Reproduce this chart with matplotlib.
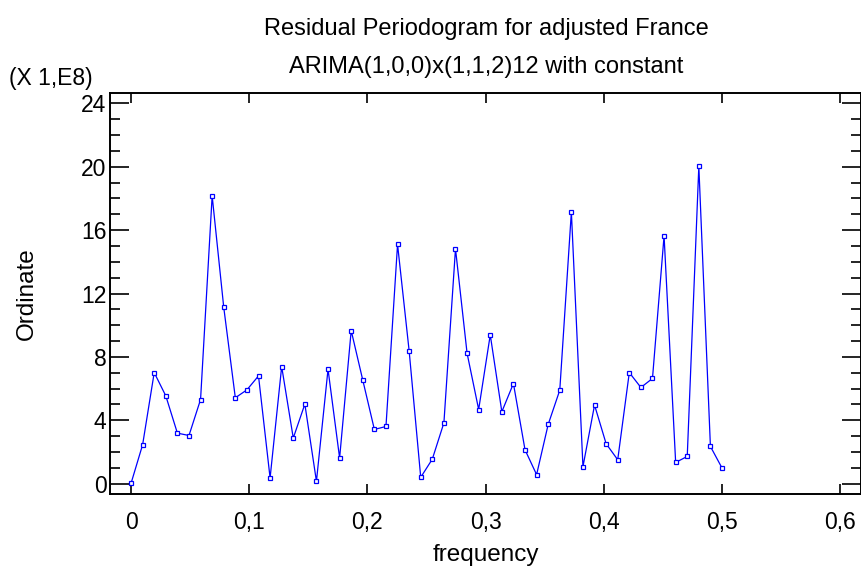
import matplotlib
matplotlib.use("Agg")
import matplotlib.pyplot as plt
import numpy as np
from matplotlib.ticker import FixedLocator, MultipleLocator, FuncFormatter

plt.rcParams['font.family'] = ['Liberation Sans', 'DejaVu Sans']

n_points = 52
frequency = [k / 102 for k in range(n_points)]
ordinate = [0.02, 2.46, 7.01, 5.54, 3.19, 3.04, 5.31, 18.16, 11.13, 5.42,
            5.92, 6.80, 0.36, 7.39, 2.88, 5.02, 0.15, 7.22, 1.62, 9.66,
            6.53, 3.42, 3.61, 15.10, 8.38, 0.40, 1.55, 3.84, 14.82, 8.23,
            4.68, 9.39, 4.54, 6.32, 2.14, 0.57, 3.74, 5.90, 17.15, 1.07,
            4.96, 2.52, 1.51, 7.01, 6.07, 6.64, 15.64, 1.34, 1.72, 20.03,
            2.35, 0.99]
x_ticks = [0, 0.1, 0.2, 0.3, 0.4, 0.5, 0.6]
y_ticks = [0, 4, 8, 12, 16, 20, 24]

fig = plt.figure(figsize=(8.62, 5.72), dpi=100)
ax = fig.add_axes([110/862, 1 - 494.3/572, (861-110)/862, (494.3-92.7)/572])

ax.plot(frequency, ordinate, color='#0000ff', lw=0.9, marker='s', ms=3.2,
        mfc='white', mec='#0000ff', mew=0.9)

ax.set_xlim(-0.0178, 0.6176)
ax.set_ylim(-0.67, 24.67)
ax.xaxis.set_major_locator(FixedLocator(x_ticks))
ax.yaxis.set_major_locator(FixedLocator(y_ticks))
ax.yaxis.set_minor_locator(MultipleLocator(1))

fmt = FuncFormatter(lambda v, p: ('%g' % round(v, 3)).replace('.', ','))
ax.xaxis.set_major_formatter(fmt)
ax.yaxis.set_major_formatter(fmt)

ax.tick_params(axis='both', which='both', direction='in', labelsize=16.5, colors='black')
ax.tick_params(axis='x', which='major', length=7, width=1.2, top=True, bottom=True, pad=12)
ax.tick_params(axis='y', which='major', length=14, width=1.2, left=True, right=True, pad=2.5)
ax.tick_params(axis='y', which='minor', length=7, width=1.2, left=True, right=True)
for s in ax.spines.values():
    s.set_linewidth(1.4)

ax.set_ylabel('Ordinate', fontsize=17.5)
ax.yaxis.set_label_coords(-0.096, 0.5)

fig.text(486/862, 1 - 555/572, 'frequency', ha='center', va='center', fontsize=17.5)
fig.text(486/862, 1 - 29/572, 'Residual Periodogram for adjusted France', ha='center', va='center', fontsize=17)
fig.text(486/862, 1 - 67/572, 'ARIMA(1,0,0)x(1,1,2)12 with constant', ha='center', va='center', fontsize=17)
fig.text(9/862, 1 - 79/572, '(X 1,E8)', ha='left', va='center', fontsize=16.5)

fig.savefig('out.png', dpi=100)
